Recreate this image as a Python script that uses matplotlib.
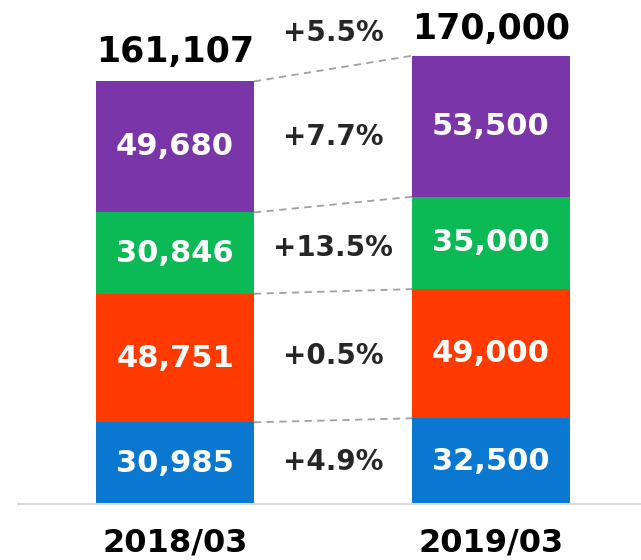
import matplotlib
matplotlib.use("Agg")
import matplotlib.pyplot as plt
import numpy as np

periods = ["2018/03", "2019/03"]
blue = [30985, 32500]
orange = [48751, 49000]
green = [30846, 35000]
purple = [49680, 53500]
totals = [161107, 170000]
growth_labels = ["+4.9%", "+0.5%", "+13.5%", "+7.7%"]
total_growth = "+5.5%"

series = [blue, orange, green, purple]
colors = ["#0A78D0", "#FF3A00", "#0BBA55", "#7A36A8"]

fig = plt.figure(figsize=(6.41, 5.6), dpi=100)
ax = fig.add_axes([18/641, 56/560, 623/641, 501/560])

x = np.arange(len(periods))
width = 0.5
bottoms = np.zeros(len(periods))
tops_list = []
for vals, c in zip(series, colors):
    vals = np.array(vals, dtype=float)
    ax.bar(x, vals, width, bottom=bottoms, color=c, edgecolor="none")
    for xi, b, v in zip(x, bottoms, vals):
        ax.text(xi, b + v / 2, f"{int(v):,}", ha="center", va="center",
                color="white", fontsize=22, fontweight="bold")
    bottoms = bottoms + vals
    tops_list.append(bottoms.copy())

# dashed connectors and growth labels
prev = np.zeros(len(periods))
for tops, lab in zip(tops_list, growth_labels):
    ax.plot([x[0] + width / 2, x[1] - width / 2], [tops[0], tops[1]],
            ls=(0, (4, 3)), color="#A0A0A0", lw=1.3)
    mid = ((prev[0] + tops[0]) / 2 + (prev[1] + tops[1]) / 2) / 2
    ax.text((x[0] + x[1]) / 2, mid, lab, ha="center", va="center",
            color="#262626", fontsize=20, fontweight="bold")
    prev = tops

for xi, t in zip(x, totals):
    ax.annotate(f"{t:,}", (xi, t), xytext=(0, 7), textcoords="offset points",
                ha="center", va="bottom", fontsize=25, fontweight="bold", color="black")

ax.text((x[0] + x[1]) / 2, totals[1] + 3500, total_growth, ha="center", va="bottom",
        color="#262626", fontsize=20, fontweight="bold")

ax.set_xlim(-157/316, 1 + 150/316)
ax.set_ylim(0, 190000)
ax.set_xticks(x)
ax.set_xticklabels(periods, fontsize=23, fontweight="bold")
ax.tick_params(axis="x", length=0, pad=17)
ax.set_yticks([])
for s in ["top", "left", "right"]:
    ax.spines[s].set_visible(False)
ax.spines["bottom"].set_color("#D9D9D9")
ax.spines["bottom"].set_linewidth(1.5)

fig.savefig("out.png", dpi=100)
